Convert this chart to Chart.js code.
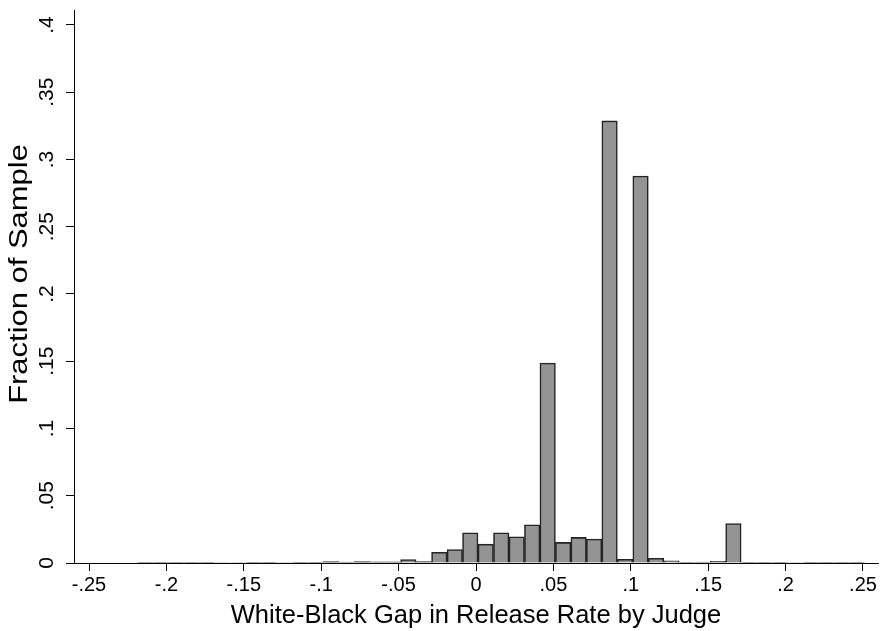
<!DOCTYPE html>
<html>
<head>
<meta charset="utf-8">
<script src="https://cdn.jsdelivr.net/npm/chart.js@4.4.0/dist/chart.umd.min.js"></script>
<style>
  body { margin: 0; background: #fff; }
  #myChart { position: absolute; left: 0; top: 0; }
</style>
</head>
<body>
<canvas id="myChart" width="884" height="631"></canvas>
<script>
// histogram bins (centre of each 0.01-wide bin)
let binCenters = [-0.2137, -0.2037, -0.1937, -0.1837, -0.1737, -0.1637, -0.1537, -0.1437,
  -0.1337, -0.1237, -0.1137, -0.1037, -0.0937, -0.0837, -0.0737, -0.0637, -0.0537,
  -0.0437, -0.0337, -0.0237, -0.0137, -0.0037, 0.0063, 0.0163, 0.0263, 0.0363, 0.0463,
  0.0563, 0.0663, 0.0763, 0.0863, 0.0963, 0.1063, 0.1163, 0.1263, 0.1363, 0.1463,
  0.1563, 0.1663, 0.1763, 0.1863, 0.1963, 0.2063, 0.2163, 0.2263, 0.2363, 0.2463];
let fractions = [0.0003, 0.0003, 0.0002, 0.0003, 0.0003, 0.0004, 0.0004, 0.0003,
  0.0005, 0.0004, 0.0003, 0.0003, 0.0010, 0.0007, 0.0010, 0.0008, 0.0008,
  0.0025, 0.0010, 0.0080, 0.0100, 0.0225, 0.0140, 0.0225, 0.0195, 0.0284, 0.1487,
  0.0153, 0.0190, 0.0178, 0.3287, 0.0027, 0.2877, 0.0035, 0.0017, 0.0002, 0.0007,
  0.0012, 0.0294, 0.0002, 0.0002, 0.0005, 0.0004, 0.0003, 0.0002, 0.0002, 0.0002];

let xTicks = [-0.25, -0.2, -0.15, -0.1, -0.05, 0, 0.05, 0.1, 0.15, 0.2, 0.25];
let xTickLabels = ["-.25", "-.2", "-.15", "-.1", "-.05", "0", ".05", ".1", ".15", ".2", ".25"];
let yTicks = [0, 0.05, 0.1, 0.15, 0.2, 0.25, 0.3, 0.35, 0.4];
let yTickLabels = ["0", ".05", ".1", ".15", ".2", ".25", ".3", ".35", ".4"];

const font = "'Liberation Sans', Arial, Helvetica, sans-serif";

// y tick labels and y title are turned on their side, Stata style
// (the source image is a little stretched vertically, so the title is too)
const rotatedYText = {
  id: 'rotatedYText',
  afterDraw(chart) {
    const ctx = chart.ctx;
    const y = chart.scales.y;
    ctx.save();
    ctx.fillStyle = '#000';
    ctx.textAlign = 'center';
    ctx.textBaseline = 'middle';
    ctx.font = '21px ' + font;
    for (let i = 0; i < yTicks.length; i++) {
      ctx.save();
      ctx.translate(47, y.getPixelForValue(yTicks[i]));
      ctx.rotate(-Math.PI / 2);
      ctx.fillText(yTickLabels[i], 0, 0);
      ctx.restore();
    }
    ctx.font = '26px ' + font;
    ctx.translate(20, 274);
    ctx.rotate(-Math.PI / 2);
    ctx.scale(1.19, 1);
    ctx.fillText('Fraction of Sample', 0, 0);
    ctx.restore();
  }
};

let ctx = document.getElementById('myChart').getContext('2d');

const myChart = new Chart(ctx, {
  type: 'bar',
  data: {
    datasets: [{
      data: binCenters.map((c, i) => ({ x: c, y: fractions[i] })),
      backgroundColor: '#949494',
      borderColor: '#242424',
      borderWidth: 1.6,
      barPercentage: 1,
      categoryPercentage: 1
    }]
  },
  options: {
    responsive: false,
    animation: false,
    devicePixelRatio: 1,
    layout: { padding: { top: 8, right: 6, left: 0, bottom: 0 } },
    plugins: { legend: { display: false }, tooltip: { enabled: false } },
    scales: {
      x: {
        type: 'linear',
        min: -0.2597,
        max: 0.2597,
        offset: false,
        afterBuildTicks: (s) => { s.ticks = xTicks.map(v => ({ value: v })); },
        afterFit: (s) => { s.height = 68; },
        ticks: {
          color: '#000',
          font: { family: font, size: 20 },
          padding: 2,
          maxRotation: 0,
          autoSkip: false,
          callback: (v) => xTickLabels[xTicks.indexOf(v)]
        },
        grid: { drawOnChartArea: false, drawTicks: true, tickLength: 8, color: '#000', offset: false },
        border: { color: '#000', width: 1 },
        title: {
          display: true,
          text: 'White-Black Gap in Release Rate by Judge',
          color: '#000',
          font: { family: font, size: 25.5 },
          padding: { top: 0, bottom: 0 }
        }
      },
      y: {
        min: 0,
        max: 0.411,
        afterBuildTicks: (s) => { s.ticks = yTicks.map(v => ({ value: v })); },
        afterFit: (s) => { s.width = 74; },
        ticks: { callback: () => '' },
        grid: { drawOnChartArea: false, drawTicks: true, tickLength: 8, color: '#000' },
        border: { color: '#000', width: 1 }
      }
    }
  },
  plugins: [rotatedYText]
});
</script>
</body>
</html>
